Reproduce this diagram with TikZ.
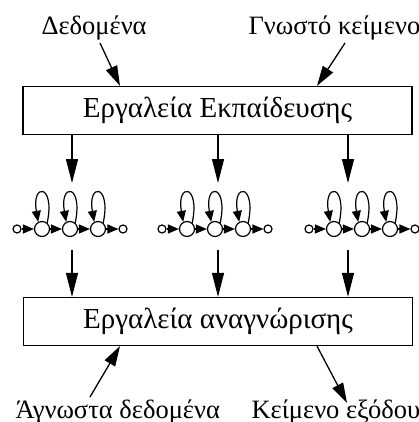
\documentclass[tikz,border=0pt]{standalone}
\usepackage{fontspec}
\setmainfont{Liberation Serif}
\usetikzlibrary{arrows.meta}

\tikzset{
  toolbox/.style={draw, line width=1.3pt, minimum width=389pt, minimum height=48pt, inner sep=0pt,
    font=\fontsize{29}{34}\selectfont},
  label/.style={anchor=base west, font=\fontsize{26.5}{31}\selectfont},
  bigst/.style={circle, draw, line width=1.2pt, minimum size=15pt, inner sep=0pt, fill=white},
  endst/.style={circle, draw, line width=1.2pt, minimum size=8pt, inner sep=0pt, fill=white},
  flow/.style={line width=1.3pt, -{Triangle[length=24pt,width=12pt]}},
  slant/.style={line width=1.3pt, -{Triangle[length=20pt,width=12pt]}},
  hmmarrow/.style={line width=1.2pt, -{Triangle[length=11pt,width=9pt]}},
}

\begin{document}
\begin{tikzpicture}[x=1pt, y=-1pt]
    \useasboundingbox (0,0) rectangle (418,422);

    % the two tool boxes
    \node[toolbox] (train) at (217.5,110.5) {Εργαλεία Εκπαίδευσης};
    \node[toolbox] (recog) at (218,321.5) {Εργαλεία αναγνώρισης};

    % inputs and outputs
    \node[label] (data) at (38,35) {Δεδομένα};
    \node[label] (known) at (245,35) {Γνωστό κείμενο};
    \node[label] (unknown) at (12,418) {Άγνωστα δεδομένα};
    \node[label] (output) at (248,418) {Κείμενο εξόδου};
    \coordinate (data-end) at (100,43);
    \coordinate (known-end) at (345,43);
    \coordinate (unknown-end) at (90,397);
    \coordinate (output-end) at (347,403);

    \draw[slant] (data-end) -- ([xshift=-97.5pt]train.north);
    \draw[slant] (known-end) -- ([xshift=99.5pt]train.north);
    \draw[slant] (unknown-end) -- ([xshift=-98pt]recog.south);
    \draw[slant] ([xshift=99pt]recog.south) -- (output-end);

    % three left-to-right models
    \foreach \nm/\cx/\ax in {a/70/72, b/215/218, c/362/348}
      {
        \node[endst] (\nm0) at (\cx-53,229) {};
        \foreach \i in {1,2,3}
          \node[bigst] (\nm\i) at (\cx-56+28*\i,229) {};
        \node[endst] (\nm4) at (\cx+53,229) {};
        \foreach \i/\j in {0/1,1/2,2/3,3/4}
          \draw[hmmarrow] (\nm\i) -- (\nm\j);
        \foreach \i in {1,2,3}
          \draw[hmmarrow] (\nm\i.50) .. controls +(-78:40) and +(-100:40) .. (\nm\i.118);
        \coordinate (\nm-top) at (\ax,183);
        \coordinate (\nm-bot) at (\ax,250);
        \draw[flow] (train.south -| \nm-top) -- (\nm-top);
        \draw[flow] (\nm-bot) -- (recog.north -| \nm-bot);
      }
\end{tikzpicture}
\end{document}
